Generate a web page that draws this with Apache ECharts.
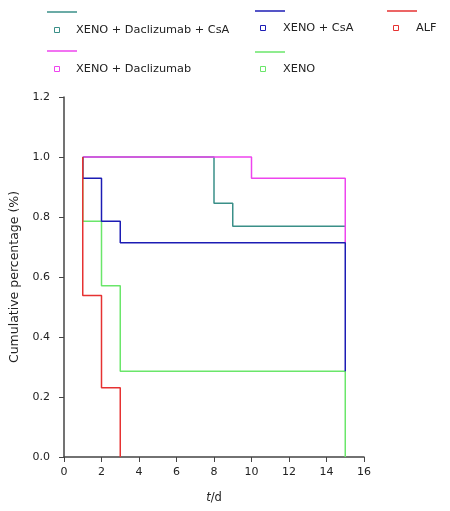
<!DOCTYPE html>
<html><head><meta charset="utf-8">
<script src="https://cdn.jsdelivr.net/npm/echarts@6/dist/echarts.min.js"></script>
<style>html,body{margin:0;padding:0;background:#fff}#c{width:450px;height:511px}</style>
</head><body><div id="c"></div>
<script>
// Series names and colours
const seriesNames = ['XENO + Daclizumab + CsA', 'XENO + Daclizumab', 'XENO + CsA', 'XENO', 'ALF'];
const seriesColors = ['#3a8f88', '#ee44ee', '#1c1cb4', '#6ae66a', '#e63232'];
// Step vertices (time in days, cumulative percentage)
const tDacCsA = [1, 8, 9, 15];
const yDacCsA = [1.0, 0.846, 0.769, 0.769];
const tDac = [1, 10, 15];
const yDac = [1.0, 0.929, 0.714];
const tCsA = [1, 1, 2, 3, 15];
const yCsA = [1.0, 0.929, 0.786, 0.714, 0.286];
const tXeno = [1, 1, 2, 3, 15];
const yXeno = [1.0, 0.786, 0.571, 0.286, 0.0];
const tALF = [1, 1, 2, 3];
const yALF = [1.0, 0.538, 0.231, 0.0];
// Axis ticks
const xTicks = [0, 2, 4, 6, 8, 10, 12, 14, 16];
const yTicks = [0, 0.2, 0.4, 0.6, 0.8, 1.0, 1.2];

const seriesT = [tDacCsA, tDac, tCsA, tXeno, tALF];
const seriesY = [yDacCsA, yDac, yCsA, yXeno, yALF];

const FONT = 'DejaVu Sans';
const chart = echarts.init(document.getElementById('c'), null, {renderer: 'canvas'});

// legend layout (line above, hollow square + text below)
const legendPos = [
  {lx: 47, ly: 12, sx: 57, sy: 30, tx: 76},
  {lx: 47, ly: 51, sx: 57, sy: 69, tx: 76},
  {lx: 255, ly: 11, sx: 263, sy: 28, tx: 283},
  {lx: 255, ly: 52, sx: 263, sy: 69, tx: 283},
  {lx: 387, ly: 11, sx: 396, sy: 28, tx: 416}
];
const graphics = [];
seriesNames.forEach((n, i) => {
  const p = legendPos[i];
  graphics.push({type: 'line', shape: {x1: p.lx, y1: p.ly, x2: p.lx + 30, y2: p.ly}, style: {stroke: seriesColors[i], lineWidth: 1.5}});
  graphics.push({type: 'rect', shape: {x: p.sx - 2.5, y: p.sy - 2.5, width: 5, height: 5}, style: {fill: 'none', stroke: seriesColors[i], lineWidth: 1}});
  graphics.push({type: 'text', x: p.tx, y: p.sy, style: {text: n, fill: '#222', font: '11.3px "' + FONT + '"', textVerticalAlign: 'middle', verticalAlign: 'middle'}});
});

const order = [0, 1, 3, 2, 4];
chart.setOption({
  animation: false,
  backgroundColor: '#fff',
  textStyle: {fontFamily: FONT},
  grid: {left: 63, right: 86, top: 97, bottom: 54},
  graphic: graphics,
  xAxis: {
    type: 'value', min: xTicks[0], max: xTicks[xTicks.length - 1], interval: 2,
    name: '{i|t}/d', nameLocation: 'middle', nameGap: 35,
    nameTextStyle: {fontSize: 11.5, color: '#222', rich: {i: {fontStyle: 'italic', fontSize: 11.5, color: '#222'}}},
    axisLine: {lineStyle: {color: '#444', width: 1.5}},
    axisTick: {inside: false, length: 5, lineStyle: {color: '#444'}},
    axisLabel: {fontSize: 11, color: '#222', margin: 10},
    splitLine: {show: false}
  },
  yAxis: {
    type: 'value', min: yTicks[0], max: yTicks[yTicks.length - 1], interval: 0.2,
    name: 'Cumulative percentage (%)', nameLocation: 'middle', nameGap: 43,
    nameTextStyle: {fontSize: 12.5, color: '#222'},
    axisLine: {show: true, lineStyle: {color: '#444', width: 1.5}},
    axisTick: {show: true, inside: false, length: 5, lineStyle: {color: '#444'}},
    axisLabel: {fontSize: 11, color: '#222', margin: 14, formatter: v => v.toFixed(1)},
    splitLine: {show: false}
  },
  series: order.map(i => ({
    type: 'line', name: seriesNames[i], step: 'end', symbol: 'none',
    lineStyle: {color: seriesColors[i], width: 1.5},
    data: seriesT[i].map((t, k) => [t, seriesY[i][k]])
  }))
});
</script></body></html>
